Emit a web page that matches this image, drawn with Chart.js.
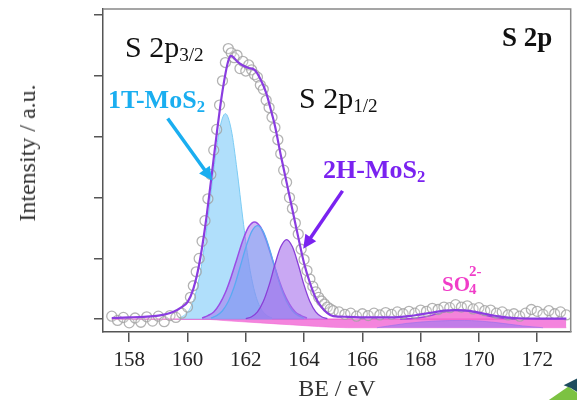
<!DOCTYPE html>
<html>
<head>
<meta charset="utf-8">
<script src="https://cdn.jsdelivr.net/npm/chart.js@4.4.1/dist/chart.umd.min.js"></script>
<style>
  html, body { margin: 0; padding: 0; background: #fff; }
  #wrap { position: relative; width: 577px; height: 400px; overflow: hidden; font-family: 'Liberation Serif', serif; }
  #chart { position: absolute; left: 0; top: 0; }
  .lbl { position: absolute; line-height: 1; white-space: nowrap; }
  .sub { font-size: 0.64em; position: relative; top: 0.22em; }
  .ytitle { position: absolute; left: 27px; top: 153px; font-size: 24px; color: #333; line-height: 1; white-space: nowrap; transform: translate(-50%, -50%) rotate(-90deg); }
  .deco1 { position: absolute; left: 546px; top: 380px; width: 32px; height: 22px; background: #7cc242; clip-path: polygon(0 100%, 70% 30%, 100% 60%, 100% 100%); }
  .deco2 { position: absolute; left: 560px; top: 378px; width: 18px; height: 18px; background: #1d4c5e; clip-path: polygon(20% 40%, 100% 0, 100% 80%, 60% 55%); }
</style>
</head>
<body>
<div id="wrap">
  <canvas id="chart" width="577" height="400"></canvas>
  <div class="ytitle">Intensity / a.u.</div>
  <div class="lbl" style="left:502px;top:24px;font-size:27px;font-weight:bold;color:#111">S 2p</div>
  <div class="lbl" style="left:125px;top:32px;font-size:30px;color:#111">S 2p<span class="sub">3/2</span></div>
  <div class="lbl" style="left:299px;top:83px;font-size:30px;color:#111">S 2p<span class="sub">1/2</span></div>
  <div class="lbl" style="left:108px;top:87px;font-size:26px;font-weight:bold;color:#1aaef0">1T-MoS<span class="sub">2</span></div>
  <div class="lbl" style="left:323px;top:157px;font-size:26px;font-weight:bold;color:#7a22f0">2H-MoS<span class="sub">2</span></div>
  <div class="lbl" style="left:442px;top:274px;font-size:21px;font-weight:bold;color:#f03cc8">SO<span style="position:absolute;left:27px;top:-10px;font-size:15px">2-</span><span style="position:absolute;left:27px;top:8px;font-size:15px">4</span></div>
  <div class="deco1"></div>
  <div class="deco2"></div>
</div>
<script>
// measured spectrum (open circles)
const expBe = [157.4, 157.6, 157.8, 158.0, 158.2, 158.4, 158.6, 158.8, 159.0, 159.2, 159.4, 159.6, 159.8,
  160.0, 160.1, 160.2, 160.3, 160.4, 160.5, 160.6, 160.7, 160.8, 160.9,
  161.0, 161.1, 161.2, 161.3, 161.4, 161.5, 161.6, 161.7, 161.8, 161.9,
  162.0, 162.1, 162.2, 162.3, 162.4, 162.5, 162.6, 162.7, 162.8, 162.9,
  163.0, 163.1, 163.2, 163.3, 163.4, 163.5, 163.6, 163.7, 163.8, 163.9,
  164.0, 164.1, 164.2, 164.3, 164.4, 164.5, 164.6, 164.7, 164.8, 164.9, 165.0,
  165.2, 165.4, 165.6, 165.8, 166.0, 166.2, 166.4, 166.6, 166.8, 167.0,
  167.2, 167.4, 167.6, 167.8, 168.0, 168.2, 168.4, 168.6, 168.8, 169.0,
  169.2, 169.4, 169.6, 169.8, 170.0, 170.2, 170.4, 170.6, 170.8, 171.0,
  171.2, 171.4, 171.6, 171.8, 172.0, 172.2, 172.4, 172.6, 172.8, 173.0];
const expIntensity = [0.05, -0.02, 0.03, -0.06, 0.02, -0.05, 0.04, -0.03, 0.05, -0.04, 0.06, 0.03, 0.1,
  0.2, 0.36, 0.55, 0.78, 1.0, 1.28, 1.62, 1.98, 2.38, 2.78,
  3.12, 3.52, 3.92, 4.22, 4.45, 4.38, 4.3, 4.34, 4.12, 4.24,
  4.08, 4.18, 4.1, 4.02, 3.98, 3.85, 3.78, 3.6, 3.48, 3.32,
  3.15, 2.95, 2.72, 2.45, 2.25, 2.0, 1.82, 1.58, 1.4, 1.15,
  0.98, 0.8, 0.66, 0.54, 0.45, 0.36, 0.3, 0.25, 0.2, 0.17, 0.14,
  0.12, 0.08, 0.1, 0.05, 0.09, 0.06, 0.1, 0.07, 0.11, 0.08,
  0.12, 0.09, 0.13, 0.1, 0.15, 0.13, 0.18, 0.16, 0.2, 0.19,
  0.24, 0.2, 0.22, 0.17, 0.19, 0.14, 0.15, 0.1, 0.12, 0.07,
  0.09, 0.05, 0.1, 0.16, 0.13, 0.08, 0.14, 0.09, 0.12, 0.07];

// fitted envelope
const envBe = [157.4, 158.0, 158.5, 159.0, 159.5, 159.8, 160.0, 160.2, 160.4, 160.6, 160.8, 161.0, 161.2, 161.4, 161.5,
  161.7, 161.9, 162.1, 162.3, 162.5, 162.7, 162.9, 163.0, 163.2, 163.4, 163.6, 163.8, 164.0, 164.2, 164.4, 164.6,
  164.8, 165.0, 165.5, 166.0, 167.0, 167.6, 168.0, 168.4, 168.8, 169.2, 169.6, 170.0, 170.4, 170.8, 171.2, 172.0, 173.0];
const envIntensity = [0.02, 0.03, 0.04, 0.06, 0.12, 0.2, 0.28, 0.5, 0.9, 1.5, 2.25, 3.04, 3.75, 4.25, 4.33,
  4.24, 4.17, 4.13, 4.1, 3.95, 3.72, 3.37, 3.18, 2.7, 2.25, 1.8, 1.35, 0.92, 0.6, 0.35, 0.2,
  0.1, 0.05, 0.04, 0.03, 0.03, 0.05, 0.08, 0.11, 0.14, 0.15, 0.14, 0.11, 0.07, 0.04, 0.02, 0.01, 0.01];

// 1T-MoS2 2p3/2 component
const t1Be = [159.7, 159.9, 160.1, 160.3, 160.5, 160.7, 160.9, 161.1, 161.3, 161.5, 161.7, 161.9, 162.1, 162.3, 162.5, 162.7, 162.9];
const t1Intensity = [0.02, 0.07, 0.19, 0.46, 0.94, 1.65, 2.45, 3.12, 3.38, 3.12, 2.45, 1.65, 0.94, 0.46, 0.19, 0.07, 0.02];

// 1T-MoS2 2p1/2 component (blue outline)
const t1bBe = [160.8, 161.0, 161.2, 161.4, 161.6, 161.8, 162.0, 162.2, 162.4, 162.6, 162.8, 163.0, 163.2, 163.4, 163.6, 163.8, 164.0];
const t1bIntensity = [0.02, 0.06, 0.14, 0.29, 0.53, 0.85, 1.18, 1.44, 1.54, 1.44, 1.18, 0.85, 0.53, 0.29, 0.14, 0.06, 0.02];

// 2H-MoS2 2p3/2 component
const h2aBe = [160.5, 160.7, 160.9, 161.1, 161.3, 161.5, 161.7, 161.9, 162.1, 162.3, 162.5, 162.7, 162.9, 163.1, 163.3, 163.5, 163.7, 163.9, 164.1];
const h2aIntensity = [0.02, 0.06, 0.12, 0.25, 0.44, 0.7, 1.0, 1.3, 1.52, 1.6, 1.52, 1.3, 1.0, 0.7, 0.44, 0.25, 0.12, 0.06, 0.02];

// 2H-MoS2 2p1/2 component
const h2bBe = [162.0, 162.2, 162.4, 162.6, 162.8, 163.0, 163.2, 163.4, 163.6, 163.8, 164.0, 164.2, 164.4, 164.6, 164.8];
const h2bIntensity = [0.01, 0.04, 0.12, 0.29, 0.56, 0.9, 1.19, 1.31, 1.19, 0.9, 0.56, 0.29, 0.12, 0.04, 0.01];

// sulfate component
const so4Be = [167.3, 167.7, 168.1, 168.5, 168.9, 169.3, 169.7, 170.1, 170.5, 170.9, 171.3];
const so4Intensity = [0.0, 0.01, 0.035, 0.08, 0.13, 0.15, 0.13, 0.08, 0.035, 0.01, 0.0];
const so4BaseBe = [166.5, 167.5, 168.5, 169.5, 170.5, 171.5, 172.2];
const so4BaseIntensity = [-0.14, -0.07, -0.03, -0.02, -0.05, -0.11, -0.14];

// background band
const bgBe = [157.4, 160.5, 161.5, 162.5, 163.5, 164.5, 165.5, 173.0];
const bgTop = [0, 0, 0, 0, 0, 0, 0, 0];
const bgBottom = [0, 0, -0.03, -0.06, -0.09, -0.12, -0.14, -0.14];

const xTicks = [158, 160, 162, 164, 166, 168, 170, 172];

// arrow annotations, in data units
const arrows = [
  { from: [159.32, 3.3], to: [160.85, 2.28], color: '#1aaef0' },
  { from: [165.32, 2.11], to: [163.97, 1.16], color: '#7a22f0' }
];

const pts = (xs, ys) => xs.map((x, i) => ({ x: x, y: ys[i] }));
const serif = 'Liberation Serif';

function curve(label, xs, ys, line, fill, width, fillTo) {
  return {
    label: label,
    data: pts(xs, ys),
    borderColor: line,
    backgroundColor: fill,
    borderWidth: width,
    pointRadius: 0,
    fill: fillTo,
    cubicInterpolationMode: 'monotone'
  };
}

const overlay = {
  id: 'overlay',
  afterDatasetsDraw(chart) {
    const { ctx, chartArea: a, scales } = chart;
    ctx.save();
    ctx.strokeStyle = '#888';
    ctx.lineWidth = 1.5;
    ctx.beginPath();
    ctx.moveTo(a.left, a.top);
    ctx.lineTo(a.right, a.top);
    ctx.lineTo(a.right, a.bottom);
    ctx.stroke();
    arrows.forEach(ar => {
      const x1 = scales.x.getPixelForValue(ar.from[0]), y1 = scales.y.getPixelForValue(ar.from[1]);
      const x2 = scales.x.getPixelForValue(ar.to[0]), y2 = scales.y.getPixelForValue(ar.to[1]);
      const ang = Math.atan2(y2 - y1, x2 - x1);
      const head = 15;
      ctx.strokeStyle = ar.color;
      ctx.fillStyle = ar.color;
      ctx.lineWidth = 3.5;
      ctx.beginPath();
      ctx.moveTo(x1, y1);
      ctx.lineTo(x2 - Math.cos(ang) * head * 0.8, y2 - Math.sin(ang) * head * 0.8);
      ctx.stroke();
      ctx.beginPath();
      ctx.moveTo(x2, y2);
      ctx.lineTo(x2 - head * Math.cos(ang - 0.45), y2 - head * Math.sin(ang - 0.45));
      ctx.lineTo(x2 - head * Math.cos(ang + 0.45), y2 - head * Math.sin(ang + 0.45));
      ctx.closePath();
      ctx.fill();
    });
    ctx.restore();
  }
};

new Chart(document.getElementById('chart'), {
  type: 'line',
  data: {
    datasets: [
      curve('Envelope', envBe, envIntensity, '#8a3ce0', 'transparent', 2.2, false),
      {
        label: 'Experiment',
        data: pts(expBe, expIntensity),
        showLine: false,
        pointStyle: 'circle',
        pointRadius: 5,
        pointBorderWidth: 1.3,
        pointBorderColor: 'rgba(160,160,160,0.8)',
        pointBackgroundColor: 'rgba(255,255,255,0.2)'
      },
      curve('SO4', so4Be, so4Intensity, '#a43ee0', 'rgba(240,90,205,0.75)', 1.5, 'origin'),
      curve('SO4 base', so4BaseBe, so4BaseIntensity, 'rgba(150,110,235,0.6)', 'rgba(160,120,240,0.6)', 1, { value: -0.14 }),
      curve('2H-MoS2 2p1/2', h2bBe, h2bIntensity, '#8a3fd8', 'rgba(165,110,235,0.6)', 1.3, 'origin'),
      curve('1T-MoS2 2p1/2', t1bBe, t1bIntensity, '#5aaaf2', 'rgba(110,170,245,0.45)', 1.3, 'origin'),
      curve('2H-MoS2 2p3/2', h2aBe, h2aIntensity, '#9a4de6', 'rgba(165,105,235,0.5)', 1.5, 'origin'),
      curve('1T-MoS2 2p3/2', t1Be, t1Intensity, '#7cccf4', 'rgba(150,212,250,0.75)', 1, 'origin'),
      curve('Background', bgBe, bgTop, '#f06ad2', 'rgba(242,110,215,0.85)', 1.5, '+1'),
      curve('Background low', bgBe, bgBottom, 'rgba(240,110,215,0.6)', 'transparent', 1, false)
    ]
  },
  options: {
    responsive: false,
    animation: false,
    layout: { padding: { top: 9, right: 1, left: 0, bottom: 0 } },
    plugins: { legend: { display: false }, tooltip: { enabled: false } },
    scales: {
      x: {
        type: 'linear',
        min: 157.1,
        max: 173.15,
        afterFit(s) { s.height = 68; },
        afterBuildTicks(s) { s.ticks = xTicks.map(v => ({ value: v })); },
        border: { color: '#555', width: 1.5 },
        grid: { drawOnChartArea: false, tickLength: 10, color: '#555', lineWidth: 1.5 },
        ticks: { font: { family: serif, size: 21 }, color: '#222', padding: 6, maxRotation: 0 },
        title: { display: true, text: 'BE / eV', font: { family: serif, size: 24, lineHeight: 0.75 }, color: '#333', padding: { top: 0, bottom: 1 } }
      },
      y: {
        min: -0.21,
        max: 5.1,
        afterFit(s) { s.width = 103; },
        border: { color: '#555', width: 1.5 },
        grid: { drawOnChartArea: false, tickLength: 9, color: '#555', lineWidth: 1.5 },
        ticks: { display: false, stepSize: 1, includeBounds: false },
        title: { display: false }
      }
    }
  },
  plugins: [overlay]
});
</script>
</body>
</html>
